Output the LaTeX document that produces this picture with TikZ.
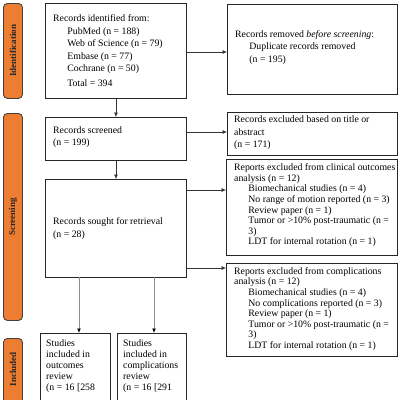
\documentclass[tikz,border=0pt]{standalone}
\usepackage{fontspec}
\setmainfont{Liberation Serif}
\usetikzlibrary{arrows.meta,calc}
\definecolor{lblorange}{HTML}{ED7D31}
\definecolor{lbledge}{HTML}{41403E}
\tikzset{
  box/.style={draw=black!85, line width=0.9pt, anchor=north west, inner sep=0pt},
  txt/.style={anchor=west, align=left, inner sep=0pt, font=\fontsize{9.8}{12.4}\selectfont},
  tighttxt/.style={txt, font=\fontsize{9.8}{10.6}\selectfont},
  stext/.style={anchor=north west, align=left, inner sep=0pt, font=\fontsize{9.8}{11}\selectfont},
  lbl/.style={draw=lbledge, fill=lblorange, line width=0.9pt, rounded corners=4pt, anchor=north west,
    minimum width=19pt, inner sep=0pt},
  lbltext/.style={rotate=90, font=\fontsize{9}{10}\selectfont\bfseries, text=black!85},
  arr/.style={draw=black!80, line width=0.6pt, -{Latex[length=4.5pt,width=4pt]}},
  garr/.style={draw=black!45, line width=0.9pt, -{Latex[length=4.5pt,width=4pt,fill=black,color=black]}},
}
\newcommand{\ind}{\hspace*{1.45em}}
\begin{document}
\begin{tikzpicture}[x=1pt,y=-1pt]
\clip (0,0) rectangle (400,400);
\fill[white] (0,0) rectangle (400,400);

% side labels
\node[lbl, minimum height=95pt] (L1) at (3,3) {};
\node[lbltext] (L1t) at (L1.center) {Identification};
\node[lbl, minimum height=207pt] (L2) at (3,113) {};
\node[lbltext] (L2t) at (L2.center) {Screening};
\node[lbl, minimum height=80pt] (L3) at (3,338) {};
\node[lbltext] at ($(L3.north)+(0,31)$) (L3t) {Included};

% left column
\node[box, minimum width=141pt, minimum height=95pt] (id) at (45,3) {};
\node[txt] (idt) at ($(id.west)+(8,0)$)
 {Records identified from:\\ \ind PubMed (n = 188)\\ \ind Web of Science (n = 79)\\ \ind Embase (n = 77)\\ \ind Cochrane (n = 50)\\[3pt] \ind Total = 394};
\node[box, minimum width=141pt, minimum height=43pt] (scr) at (45,117) {};
\node[txt] (scrt) at ($(scr.west)+(8,-2)$) {Records screened\\ (n = 199)};
\node[box, minimum width=141pt, minimum height=98pt] (sou) at (45,179) {};
\node[txt] (sout) at ($(sou.west)+(8,0)$) {Records sought for retrieval\\ (n = 28)};

% right column
\node[box, minimum width=170pt, minimum height=90pt] (rem) at (227,4) {};
\node[txt] (remt) at ($(rem.west)+(8,-2)$)
 {Records removed \emph{before screening}:\\ \ind Duplicate records removed\\ \ind (n = 195)};
\node[box, minimum width=170pt, minimum height=43pt] (ttl) at (227,112) {};
\node[txt] (ttlt) at ($(ttl.west)+(7,-1)$)
 {Records excluded based on title or\\ abstract\\ (n = 171)};
\node[box, minimum width=171pt, minimum height=96pt] (out) at (226,159) {};
\node[tighttxt] (outt) at ($(out.west)+(8,-2)$)
 {Reports excluded from clinical outcomes\\ analysis (n = 12)\\ \ind Biomechanical studies (n = 4)\\ \ind No range of motion reported (n = 3)\\ \ind Review paper (n = 1)\\ \ind Tumor or >10\% post-traumatic (n =\\ \ind 3)\\ \ind LDT for internal rotation (n = 1)};
\node[box, minimum width=171pt, minimum height=93pt] (cmp) at (226,263) {};
\node[tighttxt] (cmpt) at ($(cmp.west)+(8,-1)$)
 {Reports excluded from complications\\ analysis (n = 12)\\ \ind Biomechanical studies (n = 4)\\ \ind No complications reported (n = 3)\\ \ind Review paper (n = 1)\\ \ind Tumor or >10\% post-traumatic (n =\\ \ind 3)\\ \ind LDT for internal rotation (n = 1)};

% included boxes
\node[box, minimum width=70pt, minimum height=90pt] (st1) at (40,333) {};
\node[stext] (st1t) at (46,339)
 {Studies\\ included in\\ outcomes\\ review\\ (n = 16 [258};
\node[box, minimum width=69pt, minimum height=90pt] (st2) at (117,333) {};
\node[stext] (st2t) at (123,339)
 {Studies\\ included in\\ complications\\ review\\ (n = 16 [291};

% connectors
\coordinate (a0) at (186,52);
\draw[arr] (a0) -- (a0 -| rem.west);
\draw[arr] (id.south) -- (scr.north);
\coordinate (a1) at (186,132);
\draw[arr] (a1) -- (a1 -| ttl.west);
\draw[arr] (scr.south) -- (sou.north);
\coordinate (a2) at (186,190);
\draw[arr] (a2) -- (a2 -| out.west);
\coordinate (a3) at (186,268);
\draw[arr] (a3) -- (a3 -| cmp.west);
\coordinate (v1) at (79,277);
\coordinate (v2) at (154,277);
\draw[garr] (v1) -- (v1 |- st1.north);
\draw[garr] (v2) -- (v2 |- st2.north);
\end{tikzpicture}
\end{document}
